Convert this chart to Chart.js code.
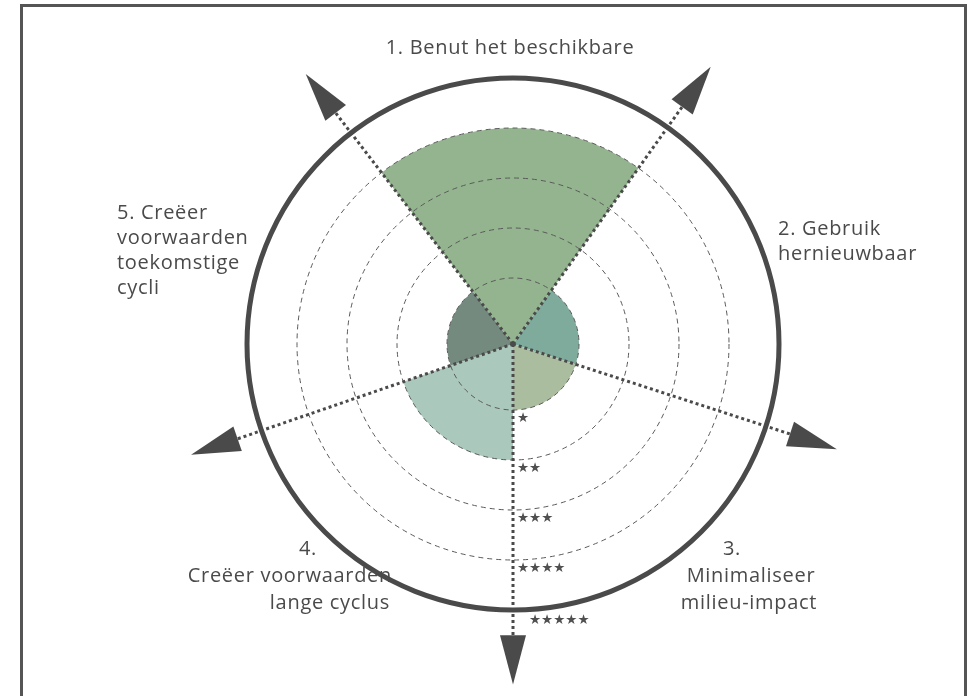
<!DOCTYPE html>
<html><head><meta charset="utf-8">
<script src="https://cdn.jsdelivr.net/npm/chart.js@4/dist/chart.umd.min.js"></script>
<style>
html,body{margin:0;padding:0;background:#fff;}
#wrap{position:relative;width:970px;height:696px;overflow:hidden;}
#frame{position:absolute;left:20px;top:4px;width:947px;height:760px;border:3px solid #555;box-sizing:border-box;}
canvas{position:absolute;left:0;top:0;}
</style></head><body>
<div id="wrap"><canvas id="c" width="970" height="696"></canvas><div id="frame"></div></div>
<script>
const categories = ['1. Benut het beschikbare', '2. Gebruik hernieuwbaar', '3. Minimaliseer milieu-impact', '4. Creëer voorwaarden lange cyclus', '5. Creëer voorwaarden toekomstige cycli'];
const scores = [4, 1, 1, 2, 1];
const wedgeAngles = [73, 72.5, 72, 71, 71.5];
const wedgeColors = ['#93b48e', '#7eab9b', '#abbd9f', '#abc8bc', '#748a7e'];
const ringValues = [1, 2, 3, 4, 5];
const starLabels = ['★', '★★', '★★★', '★★★★', '★★★★★'];
const labelLines = [
  ['1. Benut het beschikbare'],
  ['2. Gebruik', 'hernieuwbaar'],
  ['3.', 'Minimaliseer', 'milieu-impact'],
  ['4.', 'Creëer voorwaarden', 'lange cyclus'],
  ['5. Creëer', 'voorwaarden', 'toekomstige', 'cycli']
];
// layout of the label lines: [dx, dy, align] relative to the chart centre
const labelLayout = [
  [[-3, -296, 'center']],
  [[265, -115, 'left'], [265, -90, 'left']],
  [[219, 205, 'center'], [238, 232, 'center'], [236, 259, 'center']],
  [[-205, 205, 'center'], [-121, 232, 'right'], [-123, 259, 'right']],
  [[-396, -131, 'left'], [-396, -106, 'left'], [-396, -81, 'left'], [-396, -56, 'left']]
];
const INK = '#4a4a4a';

const overlay = {
  id: 'overlay',
  afterDraw(chart) {
    const ctx = chart.ctx;
    const r = chart.scales.r;
    const cx = r.xCenter, cy = r.yCenter, R = r.drawingArea;
    const arcs = chart.getDatasetMeta(0).data;
    ctx.save();
    arcs.forEach(a => {
      const ang = a.startAngle;
      const ux = Math.cos(ang), uy = Math.sin(ang);
      const px = -uy, py = ux;
      const base = R * 1.095, tip = R * 1.28, hw = 13;
      ctx.setLineDash([3, 3]);
      ctx.lineWidth = 3;
      ctx.strokeStyle = INK;
      ctx.beginPath();
      ctx.moveTo(cx, cy);
      ctx.lineTo(cx + ux * (base + 2), cy + uy * (base + 2));
      ctx.stroke();
      ctx.setLineDash([]);
      ctx.fillStyle = INK;
      ctx.beginPath();
      ctx.moveTo(cx + ux * tip, cy + uy * tip);
      ctx.lineTo(cx + ux * base + px * hw, cy + uy * base + py * hw);
      ctx.lineTo(cx + ux * base - px * hw, cy + uy * base - py * hw);
      ctx.closePath();
      ctx.fill();
    });
    // star tick labels along the downward axis
    ctx.font = '13.5px "DejaVu Sans"';
    ctx.fillStyle = '#505050';
    ctx.textAlign = 'left';
    ctx.textBaseline = 'middle';
    ringValues.forEach((v, i) => {
      const d = r.getDistanceFromCenterForValue(v);
      const last = i === ringValues.length - 1;
      ctx.fillText(starLabels[i], cx + 4 + (last ? 12 : 0), cy + d + (last ? 10 : 8));
    });
    // category labels
    ctx.font = '20px "Open Sans"';
    try { ctx.letterSpacing = '0.7px'; } catch (e) {}
    ctx.fillStyle = INK;
    labelLines.forEach((lines, i) => {
      lines.forEach((t, j) => {
        const [dx, dy, al] = labelLayout[i][j];
        ctx.textAlign = al;
        ctx.fillText(t, cx + dx, cy + dy);
      });
    });
    ctx.restore();
  }
};

new Chart(document.getElementById('c'), {
  type: 'polarArea',
  data: {
    labels: categories,
    datasets: [{
      data: scores,
      backgroundColor: wedgeColors,
      borderWidth: 0,
      angle: (c) => wedgeAngles[c.dataIndex]
    }]
  },
  options: {
    responsive: false,
    animation: false,
    layout: { padding: { top: 78, bottom: 86, left: 100, right: 44 } },
    plugins: { legend: { display: false }, tooltip: { enabled: false } },
    scales: {
      r: {
        min: -0.32,
        max: 5,
        startAngle: -37.5,
        afterBuildTicks: (s) => { s.ticks = ringValues.map(v => ({ value: v })); },
        ticks: { display: false },
        pointLabels: { display: false },
        angleLines: { display: false },
        grid: {
          z: 1,
          circular: true,
          color: (c) => (c.tick && c.tick.value === 5) ? INK : '#5a5a5a',
          lineWidth: (c) => (c.tick && c.tick.value === 5) ? 5 : 1
        },
        border: {
          dash: (c) => (c.tick && c.tick.value === 5) ? [] : [5, 4]
        }
      }
    }
  },
  plugins: [overlay]
});
</script>
</body></html>
